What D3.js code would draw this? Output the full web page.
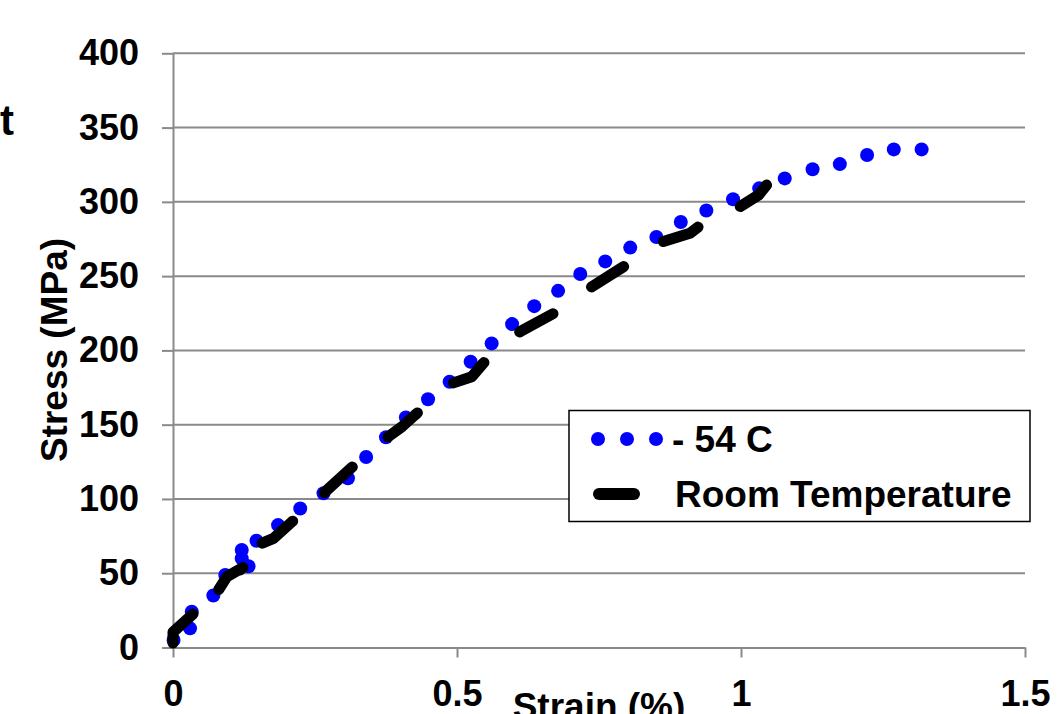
<!DOCTYPE html>
<html>
<head>
<meta charset="utf-8">
<script src="https://cdn.jsdelivr.net/npm/d3@7"></script>
<style>
  body { margin: 0; background: #fff; }
  svg { display: block; font-family: "Liberation Sans", Arial, sans-serif; font-weight: bold; }
</style>
</head>
<body>
<div class="canvas"></div>
<script>
// Data
const seriesNames = ["- 54 C", "Room Temperature"];

// -54 C series (dotted)
const strainCold = [0.001, 0.030, 0.033, 0.071, 0.092, 0.121, 0.121, 0.133, 0.147, 0.185,
    0.224, 0.265, 0.308, 0.340, 0.375, 0.410, 0.449, 0.487, 0.524, 0.561,
    0.597, 0.636, 0.678, 0.717, 0.761, 0.805, 0.851, 0.894, 0.939, 0.986,
    1.032, 1.077, 1.126, 1.174, 1.222, 1.269, 1.318];
const stressCold = [5.0, 12.9, 24.1, 35.0, 48.8, 65.6, 59.9, 54.7, 71.9, 82.4,
    93.6, 103.8, 113.9, 128.2, 141.5, 154.8, 167.1, 178.9, 192.4, 204.7,
    217.7, 229.8, 240.1, 251.4, 259.9, 269.2, 276.3, 286.4, 294.2, 301.7,
    309.1, 315.8, 321.9, 325.4, 331.5, 335.3, 335.3];

// Room temperature series (dashed)
const strainRoom = [0.000, 0.000, 0.035, 0.072, 0.065, 0.080, 0.095, 0.123, 0.118, 0.148,
    0.141, 0.156, 0.177, 0.209, 0.241, 0.238, 0.265, 0.315, 0.347, 0.375,
    0.403, 0.426, 0.491, 0.526, 0.546, 0.611, 0.670, 0.737, 0.793, 0.862,
    0.910, 0.925, 0.998, 1.031, 1.045];
const stressRoom = [3.0, 10.4, 22.5, 35.7, 32.9, 38.7, 47.7, 53.8, 52.2, 66.3,
    62.9, 70.1, 73.5, 84.5, 93.9, 93.0, 103.8, 121.3, 129.6, 140.8,
    148.6, 156.5, 177.8, 182.3, 191.3, 212.6, 224.9, 242.8, 256.3, 273.1,
    278.8, 283.2, 296.7, 304.6, 311.3];

const xTicks = [0, 0.5, 1, 1.5];
const yTicks = [0, 50, 100, 150, 200, 250, 300, 350, 400];

// Layout
const width = 1057, height = 714;
const gridColor = "#8a8a8a";

const svg = d3.select('.canvas')
    .append('svg')
    .attr('width', width)
    .attr('height', height);

const x = d3.scaleLinear().domain([0, 1.5]).range([173, 1025]);
const y = d3.scaleLinear().domain([0, 400]).range([647.5, 53.3]);

// horizontal gridlines
svg.append('g')
    .selectAll('line')
    .data(yTicks.filter(d => d > 0))
    .enter().append('line')
    .attr('x1', x(0)).attr('x2', x(1.5))
    .attr('y1', d => y(d)).attr('y2', d => y(d))
    .attr('stroke', gridColor)
    .attr('stroke-width', 2);

// axes
const yAxis = svg.append('g')
    .attr('transform', `translate(${x(0)},0)`)
    .call(d3.axisLeft(y).tickValues(yTicks).tickSize(11).tickSizeOuter(0).tickPadding(23));

const xAxis = svg.append('g')
    .attr('transform', `translate(0,${y(0)})`)
    .call(d3.axisBottom(x).tickValues(xTicks).tickFormat(d => d).tickSize(10).tickSizeOuter(0).tickPadding(23));

[yAxis, xAxis].forEach(a => {
    a.select('.domain').attr('stroke', gridColor).attr('stroke-width', 2);
    a.selectAll('.tick line').attr('stroke', gridColor).attr('stroke-width', 2);
    a.selectAll('.tick text')
        .attr('fill', '#000')
        .style('font-size', '36px')
        .style('font-family', '"Liberation Sans", Arial, sans-serif')
        .style('font-weight', 'bold');
});

const roomData = strainRoom.map((s, i) => ({ x: s, y: stressRoom[i] }));
const coldData = strainCold.map((s, i) => ({ x: s, y: stressCold[i] }));

const line = d3.line()
    .x(d => x(d.x))
    .y(d => y(d.y));

// -54 C: blue round dots
svg.append('g')
    .selectAll('circle')
    .data(coldData)
    .enter().append('circle')
    .attr('cx', d => x(d.x))
    .attr('cy', d => y(d.y))
    .attr('r', 7)
    .attr('fill', '#0000ff');

// room temperature: thick dashed line
svg.append('path')
    .datum(roomData)
    .attr('d', line)
    .attr('fill', 'none')
    .attr('stroke', '#000')
    .attr('stroke-width', 11)
    .attr('stroke-linecap', 'round')
    .attr('stroke-linejoin', 'round')
    .attr('stroke-dasharray', '38 47');

// axis titles
svg.append('text')
    .attr('transform', 'translate(67,350) rotate(-90)')
    .attr('text-anchor', 'middle')
    .style('font-size', '37px')
    .text('Stress (MPa)');

svg.append('text')
    .attr('x', (x(0) + x(1.5)) / 2)
    .attr('y', 719)
    .attr('text-anchor', 'middle')
    .style('font-size', '37px')
    .text('Strain (%)');

// cut-off title letter at the left edge
svg.append('text')
    .attr('x', 0)
    .attr('y', 135)
    .style('font-size', '42px')
    .text('t');

// legend
const legend = svg.append('g');
legend.append('rect')
    .attr('x', 569).attr('y', 410.5)
    .attr('width', 461).attr('height', 111)
    .attr('fill', '#fff')
    .attr('stroke', '#000')
    .attr('stroke-width', 1.5);

legend.append('line')
    .attr('x1', 598).attr('x2', 656.5)
    .attr('y1', 439).attr('y2', 439)
    .attr('stroke', '#0000ff')
    .attr('stroke-width', 14)
    .attr('stroke-linecap', 'round')
    .attr('stroke-dasharray', '0 29');

legend.append('line')
    .attr('x1', 599).attr('x2', 634)
    .attr('y1', 494).attr('y2', 494)
    .attr('stroke', '#000')
    .attr('stroke-width', 12)
    .attr('stroke-linecap', 'round');

legend.selectAll('text.lbl')
    .data(seriesNames)
    .enter().append('text')
    .attr('class', 'lbl')
    .attr('x', (d, i) => i ? 675 : 672)
    .attr('y', (d, i) => i ? 507 : 452)
    .style('font-size', '37px')
    .text(d => d);
</script>
</body>
</html>
